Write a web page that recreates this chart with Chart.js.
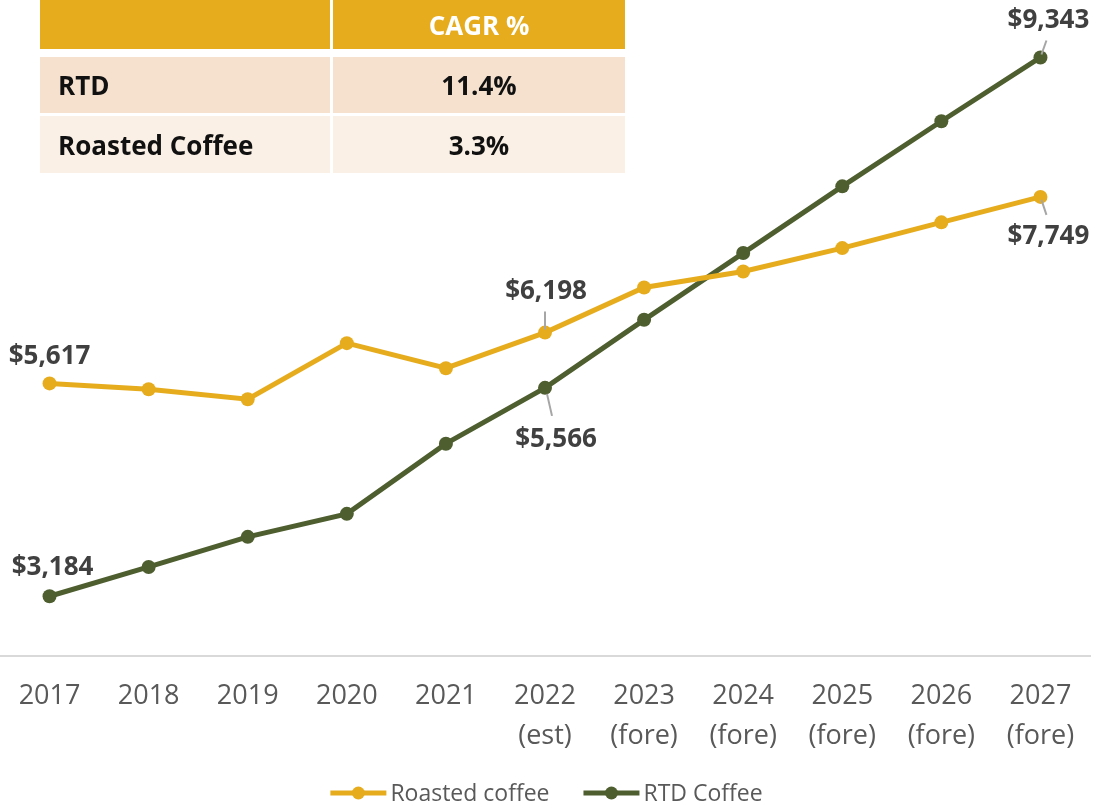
<!DOCTYPE html>
<html lang="en">
<head>
    <meta charset="UTF-8">
    <title>RTD vs Roasted Coffee</title>
    <style>
        body { margin: 0; background: #fff; font-family: "Open Sans", Arial, sans-serif; }
        .wrap { position: relative; width: 1093px; height: 804px; }
        canvas { position: absolute; left: 0; top: 0; }
        .cagr {
            position: absolute; left: 40px; top: 0; border-collapse: separate; border-spacing: 0;
            font-weight: 700; font-size: 26px; color: #111;
        }
        .cagr td { padding: 0; }
        .cagr .h td { background: #E6AC1E; color: #fff; height: 49px; text-align: center; }
        .cagr .r1 td { background: #F5E1CE; height: 56px; border-top: 8px solid #fff; }
        .cagr .r2 td { background: #FAF0E5; height: 57px; border-top: 3px solid #fff; }
        .cagr td.c1 { width: 290px; padding-left: 18px; box-sizing: border-box; }
        .cagr td.c2 { width: 292px; text-align: center; border-left: 3px solid #fff; }
    </style>
</head>
<body>
<div class="wrap">
    <canvas id="chart" width="1093" height="804"></canvas>
    <table class="cagr">
        <tr class="h"><td class="c1"></td><td class="c2">CAGR %</td></tr>
        <tr class="r1"><td class="c1">RTD</td><td class="c2">11.4%</td></tr>
        <tr class="r2"><td class="c1">Roasted Coffee</td><td class="c2">3.3%</td></tr>
    </table>
</div>
<script src="https://cdn.jsdelivr.net/npm/chart.js"></script>
<script>
    // data
    const years = [
        '2017', '2018', '2019', '2020', '2021', ['2022', '(est)'], ['2023', '(fore)'],
        ['2024', '(fore)'], ['2025', '(fore)'], ['2026', '(fore)'], ['2027', '(fore)']
    ];
    const roasted = [5617, 5550, 5436, 6077, 5791, 6198, 6713, 6897, 7164, 7458, 7749];
    const rtd = [3184, 3519, 3863, 4126, 4928, 5566, 6344, 7107, 7870, 8614, 9343];

    const GOLD = '#E6AC1E';
    const GREEN = '#4E5E2F';

    // which points get a value label (dataset, index, offset, leader line)
    const valueLabels = [
        { ds: 0, i: 0, dx: 0, dy: -27 },
        { ds: 1, i: 0, dx: 3, dy: -29 },
        { ds: 0, i: 5, dx: 1, dy: -41, lead: [0, -21, 0, -3] },
        { ds: 1, i: 5, dx: 11, dy: 52, lead: [2, 6, 7, 28] },
        { ds: 1, i: 10, dx: 8, dy: -37, lead: [6, -17, 1, -3] },
        { ds: 0, i: 10, dx: 8, dy: 40, lead: [1, 3, 6, 18] }
    ];

    const fmt = v => '$' + v.toLocaleString('en-US');

    const labelPlugin = {
        id: 'valueLabels',
        afterDatasetsDraw(chart) {
            const ctx = chart.ctx;
            ctx.save();
            valueLabels.forEach(l => {
                const pt = chart.getDatasetMeta(l.ds).data[l.i];
                const v = chart.data.datasets[l.ds].data[l.i];
                if (l.lead) {
                    ctx.strokeStyle = '#A6A6A6';
                    ctx.lineWidth = 2;
                    ctx.beginPath();
                    ctx.moveTo(pt.x + l.lead[0], pt.y + l.lead[1]);
                    ctx.lineTo(pt.x + l.lead[2], pt.y + l.lead[3]);
                    ctx.stroke();
                }
                ctx.fillStyle = '#404040';
                ctx.font = '700 26px "Open Sans"';
                ctx.textAlign = 'center';
                ctx.textBaseline = 'middle';
                ctx.fillText(fmt(v), pt.x + l.dx, pt.y + l.dy);
            });
            ctx.restore();
        }
    };

    // legend drawn at the bottom: line with a dot, then the series name
    const legendPlugin = {
        id: 'lineLegend',
        afterDraw(chart) {
            const ctx = chart.ctx;
            const y = chart.height - 11;
            const markW = 56, gapText = 4, gapItem = 34;
            ctx.save();
            ctx.font = '23px "Open Sans"';
            ctx.textBaseline = 'middle';
            const items = chart.data.datasets.map(d => ({ text: d.label, color: d.borderColor, w: ctx.measureText(d.label).width }));
            const total = items.reduce((s, it) => s + markW + gapText + it.w, 0) + gapItem * (items.length - 1);
            let x = (chart.width - total) / 2;
            items.forEach(it => {
                ctx.strokeStyle = it.color;
                ctx.lineWidth = 5;
                ctx.beginPath();
                ctx.moveTo(x, y);
                ctx.lineTo(x + markW, y);
                ctx.stroke();
                ctx.fillStyle = it.color;
                ctx.beginPath();
                ctx.arc(x + markW / 2, y, 6.5, 0, Math.PI * 2);
                ctx.fill();
                ctx.fillStyle = '#595959';
                ctx.textAlign = 'left';
                ctx.fillText(it.text, x + markW + gapText, y + 1);
                x += markW + gapText + it.w + gapItem;
            });
            ctx.restore();
        }
    };

    new Chart(document.getElementById('chart'), {
        type: 'line',
        data: {
            labels: years,
            datasets: [
                {
                    label: 'Roasted coffee',
                    data: roasted,
                    borderColor: GOLD,
                    backgroundColor: GOLD,
                    borderWidth: 5,
                    pointRadius: 7,
                    pointBorderWidth: 0,
                    pointHoverRadius: 7
                },
                {
                    label: 'RTD Coffee',
                    data: rtd,
                    borderColor: GREEN,
                    backgroundColor: GREEN,
                    borderWidth: 5,
                    pointRadius: 7,
                    pointBorderWidth: 0,
                    pointHoverRadius: 7
                }
            ]
        },
        options: {
            responsive: false,
            animation: false,
            layout: { autoPadding: false, padding: { left: 0, right: 3, top: 0, bottom: 28 } },
            plugins: {
                legend: { display: false },
                tooltip: { enabled: false }
            },
            scales: {
                x: {
                    offset: true,
                    grid: { display: false, drawTicks: false },
                    border: { display: true, color: '#D9D9D9', width: 2 },
                    ticks: {
                        padding: 20,
                        color: '#595959',
                        maxRotation: 0,
                        autoSkip: false,
                        font: { family: '"Open Sans"', size: 27, lineHeight: 1.48 }
                    },
                    afterFit(scale) {
                        // labels fit inside the offset band, no extra side padding
                        scale.paddingLeft = 0;
                        scale.paddingRight = 0;
                    }
                },
                y: {
                    display: false,
                    min: 2500,
                    max: 10000
                }
            }
        },
        plugins: [labelPlugin, legendPlugin]
    });
</script>
</body>
</html>
